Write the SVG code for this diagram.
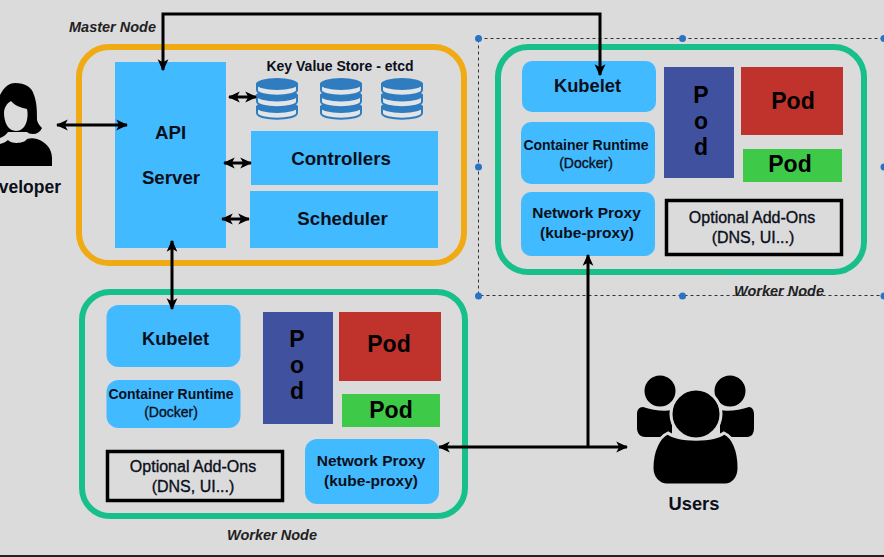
<svg xmlns="http://www.w3.org/2000/svg" width="884" height="557" viewBox="0 0 884 557">
<style>
text{font-family:"Liberation Sans",Arial,sans-serif;font-weight:bold;text-anchor:middle;fill:#0a0f1a}
.blue{fill:#42baff}
.green{fill:none;stroke:#17c08a;stroke-width:6}
.opt{fill:none;stroke:#000;stroke-width:3.5}
.l{font-size:16px;font-weight:normal;stroke:#0a0f1a;stroke-width:.35}
.n{font-size:18.300px}
.h{font-size:18.700px}
.s{font-size:14px}
.d{font-size:14px;font-weight:normal;stroke:#0a0f1a;stroke-width:.35}
.p{font-size:15.500px}
.c{stroke:#000;stroke-width:3;fill:none;marker-end:url(#a);marker-start:url(#a)}
.ns{marker-start:none}
.it{font-size:14.500px;font-style:italic;fill:#222}
.pod{font-size:23px;fill:#000}
.dot{fill:#2a72c4}
.db{fill:#2f7cc0}
.db2{fill:#e2e4e6;stroke:#2f7cc0;stroke-width:2}
.gap{stroke:#dcdbdc;stroke-width:3}
</style>
<defs>
<marker id="a" viewBox="0 0 10 10" refX="9" refY="5" markerUnits="userSpaceOnUse" markerWidth="12" markerHeight="12" orient="auto-start-reverse"><path d="M0,0.5 L10,5 L0,9.5 L2.5,5z" fill="#000"/></marker>
<g id="disc">
<path class="db2" d="M-20,0 V6 C-20,13.500 20,13.500 20,6 V0z"/>
<ellipse class="db" cx="0" cy="0" rx="21" ry="6"/>
</g>
<g id="cyl">
<use href="#disc" y="29"/><use href="#disc" y="17.500"/><use href="#disc" y="6"/>
</g>
</defs>
<rect width="884" height="557" fill="#dcdbdc"/>
<rect y="555" width="884" height="2" fill="#222"/>

<g id="selection">
<rect x="478.500" y="38.500" width="420" height="257" fill="none" stroke="#333" stroke-width="1" stroke-dasharray="3 3"/>
<circle class="dot" cx="478.500" cy="38.500" r="3.500"/><circle class="dot" cx="682.500" cy="38.500" r="3.500"/><circle class="dot" cx="884" cy="38.500" r="3.500"/>
<circle class="dot" cx="478.500" cy="167" r="3.500"/><circle class="dot" cx="884" cy="167" r="3.500"/>
<circle class="dot" cx="478.500" cy="296" r="3.500"/><circle class="dot" cx="682.500" cy="296" r="3.500"/><circle class="dot" cx="884" cy="296" r="3.500"/>
</g>

<g id="developer">
<path fill="#000" d="M0,95 C4,87 9,83 15,83 C25,83 32,87 34,95 C37,103 37,112 37,120 C38,124 40,126 42,128 C40,132 37,134 33,134 C30,134 28,133 27,132 H8 C6,135 3,137 0,138z"/>
<path fill="#000" d="M0,144 C3,143 6,142 8,140 C11,144 24,144 27,139 C30,138 34,138 37,139 C46,142 52,149 52,158 V166 H0z"/>
<path fill="#dcdbdc" d="M4,113 C4,108 7,103 11,101 C15,106 22,108 27,109 C29,118 26,131 16,131 C8,131 4,122 4,113z"/>
<text x="61" y="193" style="text-anchor:end;font-size:17.500px">veloper</text>
</g>

<g id="master-node">
<rect x="79" y="47" width="385" height="216" rx="30" fill="none" stroke="#f0ab14" stroke-width="6"/>
<text class="it" x="112.500" y="32">Master Node</text>
</g>
<g id="api-server"><rect class="blue" x="115" y="62" width="111" height="186"/>
<text class="h" x="170.500" y="139">API</text><text class="h" x="171" y="184">Server</text></g>
<g id="etcd">
<text class="s" x="340" y="71">Key Value Store - etcd</text>
<use href="#cyl" x="277" y="78"/><use href="#cyl" x="341" y="78"/><use href="#cyl" x="402" y="78"/>
</g>
<g id="controllers"><rect class="blue" x="251" y="131" width="187" height="54"/><text class="h" x="341" y="165">Controllers</text></g>
<g id="scheduler"><rect class="blue" x="250" y="191" width="188" height="57"/><text class="h" x="342.500" y="225">Scheduler</text></g>

<g id="worker-node-right">
<rect class="green" x="498" y="47" width="366" height="225" rx="30"/>
<text class="it" x="779" y="296">Worker Node</text>
</g>
<g id="kubelet-right"><rect class="blue" x="522" y="61" width="134" height="51" rx="10"/><text class="n" x="587.500" y="92">Kubelet</text></g>
<g id="runtime-right"><rect class="blue" x="521" y="122" width="134" height="62" rx="10"/><text class="s" x="586" y="150">Container Runtime</text><text class="d" x="586" y="168">(Docker)</text></g>
<g id="proxy-right"><rect class="blue" x="521" y="192" width="134" height="64" rx="10"/><text class="p" x="586.500" y="218">Network Proxy</text><text class="p" x="587" y="238">(kube-proxy)</text></g>
<g id="pod-blue-right"><rect x="664" y="67" width="70" height="111" fill="#40529f"/><text class="pod" x="701" y="103">P</text><text class="pod" x="701" y="129">o</text><text class="pod" x="701" y="155">d</text></g>
<g id="pod-red-right"><rect x="741" y="67" width="102" height="68" fill="#c0332c"/><text class="pod" x="793" y="109">Pod</text></g>
<g id="pod-green-right"><rect x="743" y="149" width="99" height="33" fill="#3fc948"/><text class="pod" x="790" y="172">Pod</text></g>
<g id="addons-right"><rect class="opt" x="666.500" y="200.500" width="175" height="54"/><text class="l" x="752" y="223">Optional Add-Ons</text><text class="l" x="753" y="243">(DNS, UI...)</text></g>

<g id="worker-node-bottom">
<rect class="green" x="82" y="292" width="383" height="224" rx="28"/>
<text class="it" x="272" y="540">Worker Node</text>
</g>
<g id="kubelet-bottom"><rect class="blue" x="106.500" y="305" width="134" height="62" rx="12"/><text class="n" x="175.500" y="345">Kubelet</text></g>
<g id="runtime-bottom"><rect class="blue" x="106.500" y="380" width="134" height="48" rx="12"/><text class="s" x="171" y="399">Container Runtime</text><text class="d" x="171" y="417">(Docker)</text></g>
<g id="proxy-bottom"><rect class="blue" x="305" y="439" width="134" height="65" rx="12"/><text class="p" x="371" y="466">Network Proxy</text><text class="p" x="371" y="486">(kube-proxy)</text></g>
<g id="pod-blue-bottom"><rect x="263" y="312" width="70" height="112" fill="#40529f"/><text class="pod" x="297" y="347">P</text><text class="pod" x="297" y="373">o</text><text class="pod" x="297" y="399">d</text></g>
<g id="pod-red-bottom"><rect x="339" y="312" width="102" height="69" fill="#c0332c"/><text class="pod" x="389" y="352">Pod</text></g>
<g id="pod-green-bottom"><rect x="342" y="394" width="98" height="33" fill="#3fc948"/><text class="pod" x="391" y="418">Pod</text></g>
<g id="addons-bottom"><rect class="opt" x="107.500" y="451.500" width="175" height="49"/><text class="l" x="193" y="472">Optional Add-Ons</text><text class="l" x="193" y="492">(DNS, UI...)</text></g>

<g id="users">
<path d="M643,407 C652,410 664,412 672,410 L672,437 H645 C640,437 637,433 637,428 V414 C637,410 639,407 643,407z"/>
<path d="M749,407 C740,410 728,412 720,410 L720,437 H747 C752,437 754,433 754,428 V414 C754,410 752,407 749,407z"/>
<circle class="gap" cx="660" cy="391" r="17"/><circle class="gap" cx="730" cy="391" r="17"/>
<path class="gap" d="M668,433 C678,441 714,441 724,433 C733,437 739,450 739,468 C739,478 733,485 725,485 H667 C659,485 652,478 652,468 C652,450 659,437 668,433z"/>
<circle class="gap" cx="696" cy="414" r="25"/>
<text class="n" x="694" y="510">Users</text>
</g>

<g id="connectors">
<path class="c" d="M163,70 V14 H600 V75"/>
<path class="c" d="M57,125 H127"/>
<path class="c" d="M229,97 H256"/>
<path class="c" d="M224,163 H251"/>
<path class="c" d="M222,219 H249"/>
<path class="c" d="M172,241 V309"/>
<path class="c" d="M439,447 H627"/>
<path class="c ns" d="M588,447 V255"/>
</g>
</svg>
